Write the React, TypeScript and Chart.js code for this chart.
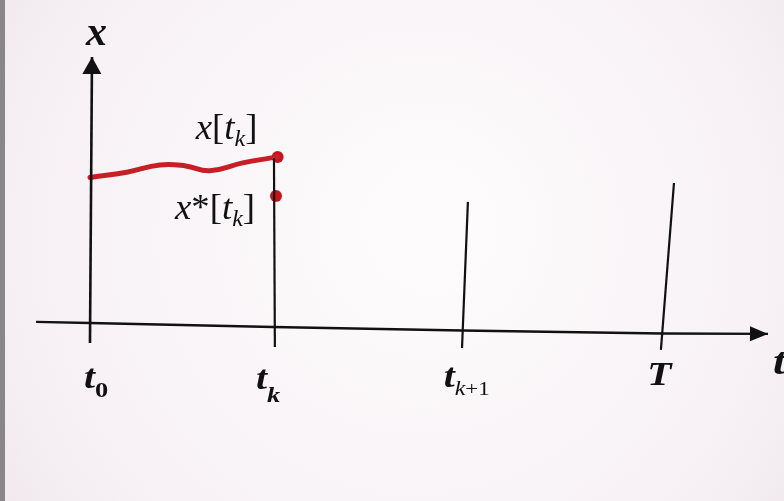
import React, { useEffect, useRef } from 'react';
import { Chart, registerables } from 'chart.js';

Chart.register(...registerables);

// ---- data (time units: t0 = 0, tk = 1; state units: x axis = 0) ----
const curveT = [0, 0.2, 0.38, 0.52, 0.65, 0.83, 1.02];
const curveX = [0.99, 1.025, 1.073, 1.067, 1.035, 1.087, 1.127];
const sampleT = [1.02, 1.011];
const sampleX = [1.127, 0.867]; // x[t_k], x*[t_k]
const timeAxisT = [-0.293, 0, 0.995, 2.022, 3.109, 3.685];
const timeAxisX = [0.027, 0.02, -0.007, -0.03, -0.05, -0.053];
const stateAxisT = [0, 0.011];
const stateAxisX = [-0.113, 1.793];
const markerTopT = [1.0, 2.054, 3.174];
const markerTopX = [1.12, 0.827, 0.953];
const markerBottomT = [1.005, 2.022, 3.103];
const markerBottomX = [-0.14, -0.147, -0.16];
const tickValues = [0, 1, 2.02, 3.1];
const tickMain = ['t', 't', 't', 'T'];
const tickSub = ['0', 'k', 'k+1', ''];

const RED = '#c81f26';
const INK = '#111111';
const SERIF = '"Liberation Serif", "Times New Roman", serif';

type Seg = { text: string; font: string; dy?: number };

function drawSegs(ctx: CanvasRenderingContext2D, x: number, y: number, segs: Seg[], sx = 1) {
  ctx.save();
  ctx.translate(x, y);
  ctx.scale(sx, 1);
  let cx = 0;
  for (const s of segs) {
    ctx.font = s.font;
    ctx.fillText(s.text, cx, s.dy || 0);
    cx += ctx.measureText(s.text).width;
  }
  ctx.restore();
}

const zip = (a: number[], b: number[]) => a.map((v, i) => ({ x: v, y: b[i] }));

const bgPlugin = {
  id: 'paper',
  beforeDraw(chart: any) {
    const { ctx, width, height } = chart;
    ctx.save();
    const g = ctx.createRadialGradient(width * 0.55, height * 0.45, 50, width * 0.5, height * 0.5, width * 0.75);
    g.addColorStop(0, '#fdfbfc');
    g.addColorStop(0.6, '#f7f1f5');
    g.addColorStop(1, '#e9dfe6');
    ctx.fillStyle = g;
    ctx.fillRect(0, 0, width, height);
    ctx.fillStyle = '#8a8589';
    ctx.fillRect(0, 0, 5, height);
    ctx.restore();
  },
};

const annotPlugin = {
  id: 'annot',
  afterDatasetsDraw(chart: any) {
    const { ctx } = chart;
    const xs = chart.scales.x;
    const ys = chart.scales.y;
    const px = (v: number) => xs.getPixelForValue(v);
    const py = (v: number) => ys.getPixelForValue(v);
    ctx.save();
    ctx.fillStyle = INK;

    // arrowheads
    const arrow = (tx: number[], vx: number[], len: number, half: number) => {
      const n = tx.length;
      const x1 = px(tx[n - 2]), y1 = py(vx[n - 2]);
      const x2 = px(tx[n - 1]), y2 = py(vx[n - 1]);
      const a = Math.atan2(y2 - y1, x2 - x1);
      ctx.beginPath();
      ctx.moveTo(x2, y2);
      ctx.lineTo(x2 - len * Math.cos(a) + half * Math.sin(a), y2 - len * Math.sin(a) - half * Math.cos(a));
      ctx.lineTo(x2 - len * Math.cos(a) - half * Math.sin(a), y2 - len * Math.sin(a) + half * Math.cos(a));
      ctx.closePath();
      ctx.fill();
    };
    arrow(timeAxisT, timeAxisX, 18, 7.5);
    arrow(stateAxisT, stateAxisX, 17, 9.5);

    ctx.textBaseline = 'alphabetic';
    const mainF = `italic bold 33px ${SERIF}`;
    const subF = `bold 22px ${SERIF}`;
    const subIF = `italic bold 22px ${SERIF}`;

    // tick labels
    const dxs = [-6, -18, -18, -13];
    const bls = [388, 389, 387, 385];
    tickValues.forEach((v, i) => {
      const segs: Seg[] = [{ text: tickMain[i], font: mainF }];
      if (tickSub[i]) {
        if (tickSub[i] === '0') segs.push({ text: '0', font: subF, dy: 9 });
        else if (tickSub[i] === 'k') segs.push({ text: 'k', font: subIF, dy: 13 });
        else {
          segs.push({ text: 'k', font: `italic 20px ${SERIF}`, dy: 8 });
          segs.push({ text: '+1', font: `19px ${SERIF}`, dy: 8 });
        }
      }
      drawSegs(ctx, px(v) + dxs[i], bls[i], segs, 1.2);
    });

    // axis names
    drawSegs(ctx, px(stateAxisT[0]) - 4, 45, [{ text: 'x', font: `italic bold 42px ${SERIF}` }]);
    drawSegs(ctx, px(timeAxisT[timeAxisT.length - 1]) + 5, 374, [{ text: 't', font: `italic bold 38px ${SERIF}` }], 1.2);

    // sample labels
    const lf = `italic 35px ${SERIF}`;
    const bf = `35px ${SERIF}`;
    const kf = `italic 23px ${SERIF}`;
    drawSegs(ctx, px(sampleT[0]) - 82, 139, [
      { text: 'x', font: lf },
      { text: '[', font: bf },
      { text: 't', font: lf },
      { text: 'k', font: kf, dy: 7 },
      { text: ']', font: bf },
    ], 1.05);
    drawSegs(ctx, px(sampleT[1]) - 101, 219, [
      { text: 'x', font: lf },
      { text: '*', font: bf },
      { text: '[', font: bf },
      { text: 't', font: lf },
      { text: 'k', font: kf, dy: 7 },
      { text: ']', font: bf },
    ], 1.05);
    ctx.restore();
  },
};

export default function App() {
  const ref = useRef<HTMLCanvasElement | null>(null);
  useEffect(() => {
    if (!ref.current) return;
    const lineDs = (data: any[], color: string, width: number) => ({
      type: 'line' as const,
      data,
      borderColor: color,
      borderWidth: width,
      pointRadius: 0,
      tension: 0,
      fill: false,
    });
    const markerSets = markerTopT.map((_, i) =>
      lineDs(
        [
          { x: markerBottomT[i], y: markerBottomX[i] },
          { x: markerTopT[i], y: markerTopX[i] },
        ],
        INK,
        2.2,
      ),
    );
    const chart = new Chart(ref.current, {
      type: 'scatter',
      data: {
        datasets: [
          lineDs(zip(timeAxisT, timeAxisX), INK, 2.4),
          lineDs(zip(stateAxisT, stateAxisX), INK, 2.6),
          ...markerSets,
          { ...lineDs(zip(curveT, curveX), RED, 5), tension: 0.45, borderCapStyle: 'round' },
          {
            type: 'scatter' as const,
            data: zip(sampleT, sampleX),
            pointRadius: 6,
            pointBackgroundColor: '#c4141d',
            pointBorderWidth: 0,
          },
        ] as any,
      },
      options: {
        animation: false,
        responsive: false,
        layout: { padding: 0, autoPadding: false },
        plugins: { legend: { display: false }, tooltip: { enabled: false } },
        scales: {
          x: { type: 'linear', min: -0.489, max: 3.772, display: false },
          y: { type: 'linear', min: -1.167, max: 2.173, display: false },
        },
      },
      plugins: [bgPlugin, annotPlugin],
    });
    return () => chart.destroy();
  }, []);
  return (
    <div style={{ position: 'absolute', left: 0, top: 0, width: 784, height: 501 }}>
      <canvas ref={ref} width={784} height={501} />
    </div>
  );
}
